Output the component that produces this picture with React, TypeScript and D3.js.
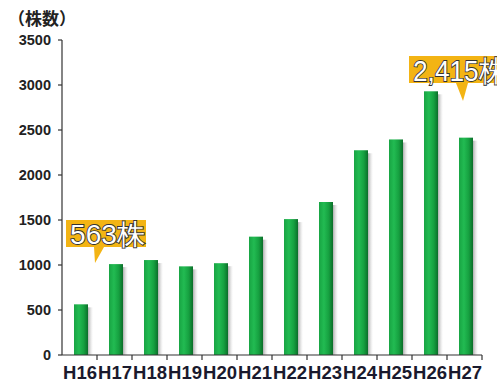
import React from "react";
import * as d3 from "d3";

const categories = ["H16","H17","H18","H19","H20","H21","H22","H23","H24","H25","H26","H27"];
const values = [563, 1010, 1055, 985, 1020, 1315, 1510, 1700, 2275, 2395, 2930, 2415];
const yTicks = [0, 500, 1000, 1500, 2000, 2500, 3000, 3500];
const yTitle = "（株数）";
const callouts = [
  { cat: "H16", text: "563株" },
  { cat: "H27", text: "2,415株" },
];

const W = 497, H = 385;
const left = 62, right = 482, top = 40, bottom = 355;

export default function App() {
  const x = d3.scaleBand<string>().domain(categories).range([left, right]).paddingInner(0).paddingOuter(0);
  const y = d3.scaleLinear().domain([0, 3500]).range([bottom, top]);
  const bw = 14;
  const font = "'Liberation Sans', Arial, sans-serif";

  const c0 = callouts[0];
  const c1 = callouts[1];
  const x0 = x(c0.cat)!;
  const x1 = x(c1.cat)!;

  return (
    <svg width={W} height={H} style={{ position: "absolute", left: 0, top: 0 }} fontFamily={font}>
      <defs>
        <linearGradient id="bar" x1="0" x2="1" y1="0" y2="0">
          <stop offset="0" stopColor="#18a443" />
          <stop offset="0.35" stopColor="#22bb52" />
          <stop offset="0.7" stopColor="#16a040" />
          <stop offset="1" stopColor="#0b6e2a" />
        </linearGradient>
        <linearGradient id="shadow" x1="0" x2="1" y1="0" y2="0">
          <stop offset="0" stopColor="#9a9a9a" stopOpacity="0.8" />
          <stop offset="1" stopColor="#d0d0d0" stopOpacity="0" />
        </linearGradient>
      </defs>
      <rect width={W} height={H} fill="#fff" />
      <text x={8} y={25} fontSize={17} fontWeight="bold" fill="#222" fontFamily="'Noto Sans CJK JP', sans-serif">{yTitle}</text>

      {/* bars */}
      {categories.map((c, i) => {
        const bx = x(c)! + x.bandwidth() / 2 - bw / 2 + 1.5;
        const by = y(values[i]);
        return (
          <g key={c}>
            <rect x={bx + bw} y={by + 3} width={5} height={bottom - by - 3} fill="url(#shadow)" />
            <rect x={bx} y={by} width={bw} height={bottom - by} fill="url(#bar)" />
          </g>
        );
      })}

      {/* y axis */}
      <line x1={left} x2={left} y1={top} y2={bottom} stroke="#333" strokeWidth={1.2} />
      {yTicks.map((t) => (
        <g key={t}>
          <line x1={left - 4} x2={left} y1={y(t)} y2={y(t)} stroke="#333" strokeWidth={1.2} />
          <text x={51} y={y(t)} dy="0.36em" textAnchor="end" fontSize={14.5} fontWeight="bold" fill="#222">{t}</text>
        </g>
      ))}

      {/* x axis */}
      <line x1={left} x2={right} y1={bottom} y2={bottom} stroke="#333" strokeWidth={1.2} />
      {categories.map((c) => (
        <line key={"t" + c} x1={x(c)! + x.bandwidth()} x2={x(c)! + x.bandwidth()} y1={bottom} y2={bottom + 5} stroke="#333" strokeWidth={1.2} />
      ))}
      {categories.map((c) => (
        <text key={"l" + c} x={x(c)! + x.bandwidth() / 2 + 0.5} y={bottom + 24} textAnchor="middle" fontSize={18} fontWeight="bold" fill="#1a1a2e" textLength={34} lengthAdjust="spacingAndGlyphs">{c}</text>
      ))}

      {/* callout 1 */}
      <g>
        <rect x={x0 + 4} y={220} width={80} height={27} fill="#f3b414" />
        <path d={`M${x0 + 32},247 L${x0 + 42},247 L${x0 + 33},263 Z`} fill="#f3b414" />
        <text x={x0 + 8} y={244} fontSize={28} fill="#fff" stroke="#333" strokeWidth={1.8} paintOrder="stroke" textLength={75} lengthAdjust="spacingAndGlyphs">{c0.text}</text>
      </g>
      {/* callout 2 */}
      <g>
        <rect x={x1 - 38} y={56} width={100} height={27} fill="#f3b414" />
        <path d={`M${x1 + 9},83 L${x1 + 21},83 L${x1 + 16},101 Z`} fill="#f3b414" />
        <text x={x1 - 34} y={81} fontSize={29} fill="#fff" stroke="#333" strokeWidth={1.8} paintOrder="stroke" textLength={92} lengthAdjust="spacingAndGlyphs">{c1.text}</text>
      </g>
    </svg>
  );
}
